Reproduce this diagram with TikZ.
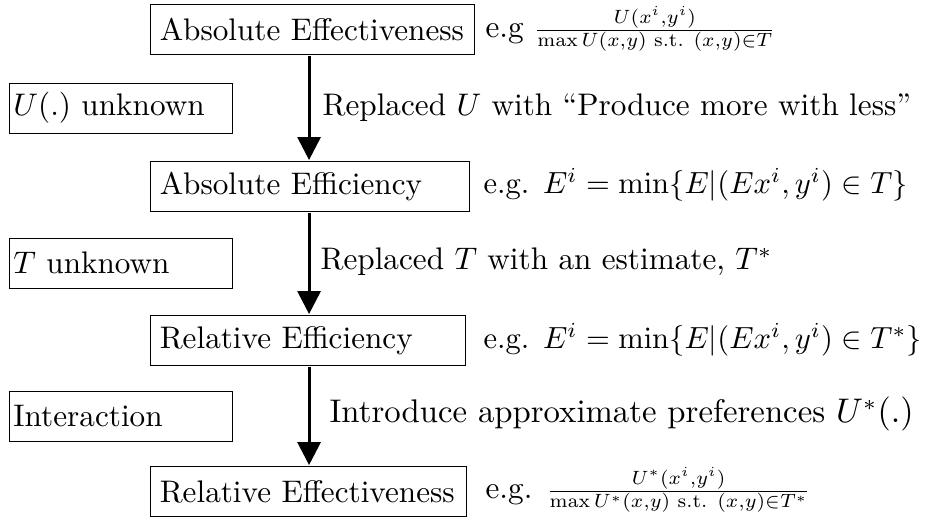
\documentclass[tikz,border=0pt]{standalone}
\usepackage{amsmath}
\usetikzlibrary{arrows.meta}
\begin{document}
\begin{tikzpicture}[x=0.32051pt,y=-0.32051pt, scale=3.12,
  every node/.style={transform shape},
  mainbox/.style={draw, line width=0.9pt, anchor=north west, align=left,
    inner xsep=3pt, inner ysep=0pt, minimum height=16pt},
  sidebox/.style={draw, line width=0.9pt, anchor=west, align=left,
    inner xsep=1.3pt, inner ysep=0pt, minimum height=16pt, text width=68.9pt},
  flowarrow/.style={line width=3pt, -{Triangle[length=23pt,width=23pt]}},
  lbl/.style={anchor=west, inner sep=0pt},
  eqn/.style={anchor=west, inner sep=0pt}
]
\useasboundingbox (0,0) rectangle (927,523);
\coordinate (ax) at (309,0);

\node[mainbox, text width=97.9pt] (b1) at (149,3) {Absolute Effectiveness};
\node[mainbox, text width=96.2pt] (b2) at (149,160) {Absolute Efficiency};
\node[mainbox, text width=95pt] (b3) at (149,314) {Relative Efficiency};
\node[mainbox, text width=95.2pt] (b4) at (149,465) {Relative Effectiveness};

\node[sidebox] (s1) at (8,108) {$U(.)$ unknown};
\node[sidebox] (s2) at (8,263) {$T$ unknown};
\node[sidebox] (s3) at (8,416) {Interaction};

\draw[flowarrow] (b1.south -| ax) -- (b2.north -| ax);
\draw[flowarrow] (b2.south -| ax) -- (b3.north -| ax);
\draw[flowarrow] (b3.south -| ax) -- (b4.north -| ax);

\node[lbl] (l1) at (322,108) {Replaced $U$ with “Produce more with less”};
\node[lbl] (l2) at (320,262) {Replaced $T$ with an estimate, $T^*$};
\node[lbl, font=\fontsize{10.5}{12.5}\selectfont] (l3) at (329,414) {Introduce approximate preferences $U^*(.)$};

\node[eqn] (e1) at (485,29) {e.g \scalebox{0.88}{$\frac{U(x^i,y^i)}{\max U(x,y)\text{ s.t. }(x,y)\in T}$}};
\node[eqn, scale=0.98] (e2) at (483,185) {e.g. $E^i=\min\{E|(Ex^i,y^i)\in T\}$};
\node[eqn, scale=0.98] (e3) at (483,340) {e.g. $E^i=\min\{E|(Ex^i,y^i)\in T^*\}$};
\node[eqn] (e4) at (485,490) {e.g. \scalebox{0.88}{$\frac{U^*(x^i,y^i)}{\max U^*(x,y)\text{ s.t. }(x,y)\in T^*}$}};
\end{tikzpicture}
\end{document}
